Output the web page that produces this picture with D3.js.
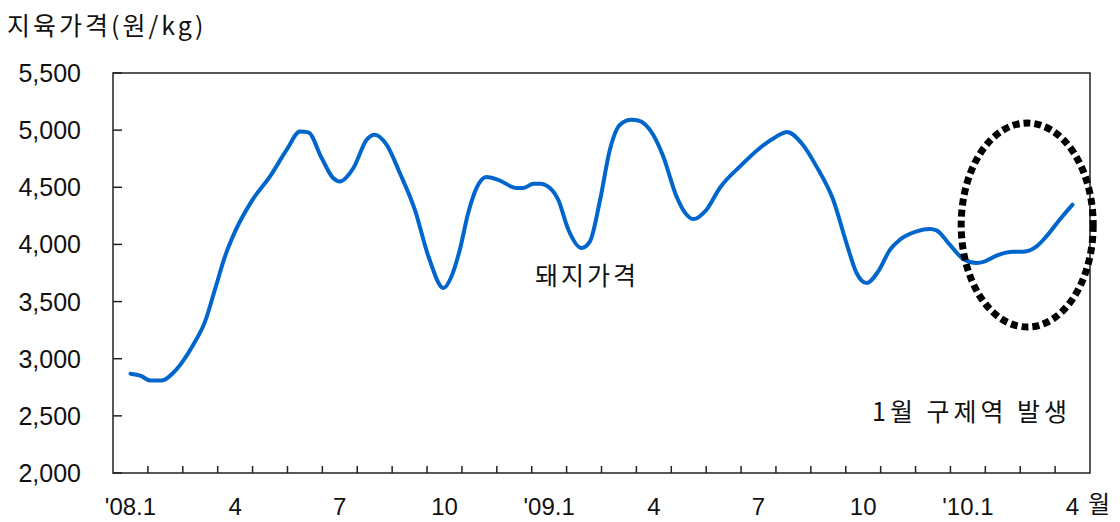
<!DOCTYPE html>
<html>
<head>
<meta charset="utf-8">
<script src="https://cdn.jsdelivr.net/npm/d3@7"></script>
<style>
  body { margin: 0; background: #fff; }
  text { font-family: "Liberation Sans", "Noto Sans CJK KR", sans-serif; fill: #111; }
  .kr { font-family: "Noto Sans CJK KR", sans-serif; }
</style>
</head>
<body>
<svg></svg>
<script>
// chart size and plot frame
const size = {w: 1120, h: 522};
const frame = {l: 113, r: 1090, t: 73, b: 473};
const svg = d3.select('svg').attr('width', size.w).attr('height', size.h);

// month labels on the x axis (index = month from Jan 2008)
const monthLabels = ["'08.1", "", "", "4", "", "", "7", "", "", "10", "", "",
                     "'09.1", "", "", "4", "", "", "7", "", "", "10", "", "",
                     "'10.1", "", "", "4"];
const yTicks = [2000, 2500, 3000, 3500, 4000, 4500, 5000, 5500];

// pork carcass price (position in months, won/kg)
const pointMonth = [0, 0.3, 0.56, 0.9, 1.22, 1.5, 1.8, 2.14, 2.42, 2.71, 3.0, 3.47, 4.0, 4.48, 4.86,
  5.1, 5.48, 5.81, 6.0, 6.39, 6.77, 7.0, 7.34, 7.72, 8.15, 8.54, 8.97, 9.2, 9.44, 9.68, 9.92,
  10.2, 10.54, 11.07, 11.26, 11.55, 11.74, 12.02, 12.26, 12.55, 12.93, 13.17, 13.46, 13.74,
  14.03, 14.36, 14.55, 14.98, 15.27, 15.65, 15.94, 16.13, 16.51, 16.89, 17.47, 18.04, 18.52,
  18.82, 19.23, 19.66, 20.14, 20.52, 20.81, 21.1, 21.43, 21.77, 22.05, 22.53, 22.91, 23.1,
  23.48, 23.87, 24.25, 24.49, 24.82, 25.3, 25.59, 25.97, 26.25, 26.63, 27.0];
const porkPrice = [2869, 2850, 2810, 2810, 2875, 2977, 3122, 3327, 3604, 3895, 4114, 4377, 4595, 4829, 4989,
  4980, 4756, 4581, 4551, 4669, 4916, 4960, 4873, 4625, 4304, 3895, 3619, 3720, 3954, 4275, 4494,
  4590, 4565, 4494, 4494, 4531, 4531, 4494, 4391, 4129, 3969, 4027, 4391, 4829,
  5048, 5091, 5085, 4960, 4770, 4420, 4260, 4222, 4304, 4494, 4683, 4844, 4945,
  4984, 4887, 4683, 4391, 4012, 3750, 3662, 3764, 3954, 4041, 4114, 4135, 4123,
  3998, 3873, 3838, 3852, 3902, 3937, 3937, 3983, 4070, 4216, 4348];

const x = d3.scaleLinear().domain([-0.5, monthLabels.length - 0.5]).range([frame.l, frame.r]);
const y = d3.scaleLinear().domain([2000, 5500]).range([frame.b, frame.t]);

// frame
svg.append('rect')
  .attr('x', frame.l).attr('y', frame.t)
  .attr('width', frame.r - frame.l).attr('height', frame.b - frame.t)
  .attr('fill', 'none').attr('stroke', '#222').attr('stroke-width', 1.5);

// y ticks point inward from left axis
svg.append('g').selectAll('line').data(yTicks).enter().append('line')
  .attr('x1', frame.l).attr('x2', frame.l + 9)
  .attr('y1', d => y(d)).attr('y2', d => y(d))
  .attr('stroke', '#222').attr('stroke-width', 1.5);

svg.append('g').selectAll('text').data(yTicks).enter().append('text')
  .attr('x', 81).attr('y', d => y(d) + 9)
  .attr('text-anchor', 'end')
  .style('font-size', '25px')
  .text(d => d3.format(',')(d));

// x ticks on month boundaries, going up from the bottom
const boundaries = d3.range(1, monthLabels.length);
svg.append('g').selectAll('line').data(boundaries).enter().append('line')
  .attr('x1', d => x(d - 0.5)).attr('x2', d => x(d - 0.5))
  .attr('y1', frame.b).attr('y2', frame.b - 7)
  .attr('stroke', '#222').attr('stroke-width', 1.5);

svg.append('g').selectAll('text')
  .data(monthLabels.map((t, i) => ({t, i})).filter(d => d.t !== ''))
  .enter().append('text')
  .attr('x', d => x(d.i)).attr('y', 515)
  .attr('text-anchor', 'middle')
  .style('font-size', '24px')
  .text(d => d.t);

svg.append('text').attr('class', 'kr')
  .attr('x', 1088).attr('y', 513)
  .style('font-size', '24px')
  .text('월');

// price line
const line = d3.line()
  .x((d, i) => x(pointMonth[i]))
  .y(d => y(d))
  .curve(d3.curveMonotoneX);

svg.append('path')
  .datum(porkPrice)
  .attr('d', line)
  .attr('fill', 'none')
  .attr('stroke', '#0066CC')
  .attr('stroke-width', 4)
  .attr('stroke-linejoin', 'round')
  .attr('stroke-linecap', 'round');

// dotted ellipse round the FMD period
svg.append('ellipse')
  .attr('cx', x(25.7)).attr('cy', 225)
  .attr('rx', 66).attr('ry', 102)
  .attr('fill', 'none')
  .attr('stroke', '#000')
  .attr('stroke-width', 7)
  .attr('stroke-dasharray', '7 4');

// labels
svg.append('text').attr('class', 'kr')
  .attr('x', 7).attr('y', 35)
  .style('font-size', '25px')
  .style('letter-spacing', '3px')
  .text('지육가격(원/kg)');

svg.append('text').attr('class', 'kr')
  .attr('x', 535).attr('y', 285)
  .style('font-size', '25px')
  .style('letter-spacing', '3px')
  .text('돼지가격');

svg.append('text').attr('class', 'kr')
  .attr('x', 872).attr('y', 421)
  .style('font-size', '25px')
  .style('letter-spacing', '4px')
  .text('1월 구제역 발생');
</script>
</body>
</html>
